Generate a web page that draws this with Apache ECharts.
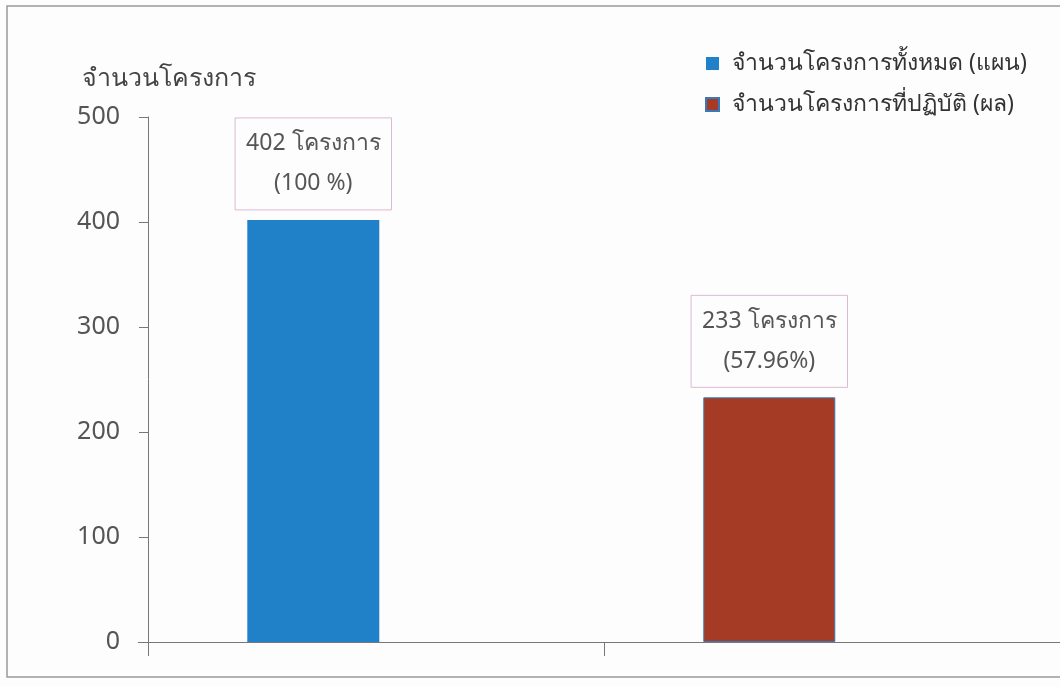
<!DOCTYPE html>
<html lang="th">

<head>
    <meta charset="UTF-8">
    <title>จำนวนโครงการ</title>
    <style>
        html,
        body {
            margin: 0;
            height: 100%;
            background: #fdfdfd;
        }

        #container {
            width: 1060px;
            height: 687px;
        }
    </style>
</head>

<body>
    <div id="container"></div>
    <script src="https://cdn.jsdelivr.net/npm/echarts@6/dist/echarts.min.js"></script>
    <script>
        // data
        var categories = ['แผน', 'ผล'];
        var planValues = [402, '-'];
        var doneValues = ['-', 233];
        var pctLabels = ['(100 %)', '(57.96%)'];
        var seriesNames = ['จำนวนโครงการทั้งหมด (แผน)', 'จำนวนโครงการที่ปฏิบัติ (ผล)'];

        var font = 'Tahoma, "Noto Sans", "DejaVu Sans", sans-serif';
        var myChart = echarts.init(document.getElementById('container'));

        var label = {
            show: true,
            position: 'top',
            distance: 10,
            color: '#555',
            fontSize: 23,
            fontFamily: font,
            lineHeight: 40,
            padding: [6, 11, 6, 11],
            borderColor: '#dcb9d4',
            borderWidth: 1,
            formatter: function (p) {
                return p.value + ' โครงการ\n' + pctLabels[p.dataIndex];
            }
        };

        var option = {
            backgroundColor: '#fdfdfd',
            textStyle: { fontFamily: font },
            legend: {
                data: seriesNames,
                orient: 'vertical',
                left: 700,
                top: 47,
                icon: 'rect',
                itemWidth: 13,
                itemHeight: 13,
                itemGap: 18,
                textStyle: { fontSize: 23, color: '#333', fontFamily: font, padding: [0, 0, 0, 8] }
            },
            grid: {
                left: 148,
                right: -4,
                top: 117,
                bottom: 45
            },
            xAxis: {
                type: 'category',
                data: categories,
                axisLine: { lineStyle: { color: '#777' } },
                axisTick: { show: true, length: 14, lineStyle: { color: '#777' } },
                axisLabel: { show: false }
            },
            yAxis: {
                type: 'value',
                min: 0,
                max: 500,
                interval: 100,
                name: 'จำนวนโครงการ',
                nameLocation: 'end',
                nameGap: 26,
                nameTextStyle: { fontSize: 25, color: '#444', align: 'center', padding: [0, 0, 0, 42] },
                axisLine: { show: true, lineStyle: { color: '#777' } },
                axisTick: { show: true, length: 9, lineStyle: { color: '#777' } },
                axisLabel: { fontSize: 25, color: '#555', margin: 28 },
                splitLine: { show: false }
            },
            series: [
                {
                    name: seriesNames[0],
                    type: 'bar',
                    stack: 'v',
                    barWidth: 132,
                    data: planValues,
                    itemStyle: { color: '#2080c8' },
                    label: label
                },
                {
                    name: seriesNames[1],
                    type: 'bar',
                    stack: 'v',
                    barWidth: 132,
                    data: doneValues,
                    itemStyle: { color: '#a53b24', borderColor: '#3a78b8', borderWidth: 1 },
                    label: label
                },
                {
                    // empty slot so the bars sit left of the band centre, like the original
                    name: 'spacer',
                    type: 'bar',
                    barWidth: 132,
                    barGap: '-5%',
                    data: ['-', '-'],
                    silent: true
                }
            ],
            graphic: [{
                type: 'rect',
                shape: { x: 7, y: 6, width: 1070, height: 671 },
                style: { fill: 'none', stroke: '#999', lineWidth: 1.5 },
                silent: true
            }, {
                // short stub of the x axis line left of the y axis, as in the original
                type: 'line',
                shape: { x1: 138, y1: 642.5, x2: 148, y2: 642.5 },
                style: { stroke: '#777', lineWidth: 1 },
                silent: true
            }]
        };

        myChart.setOption(option);
    </script>
</body>

</html>
